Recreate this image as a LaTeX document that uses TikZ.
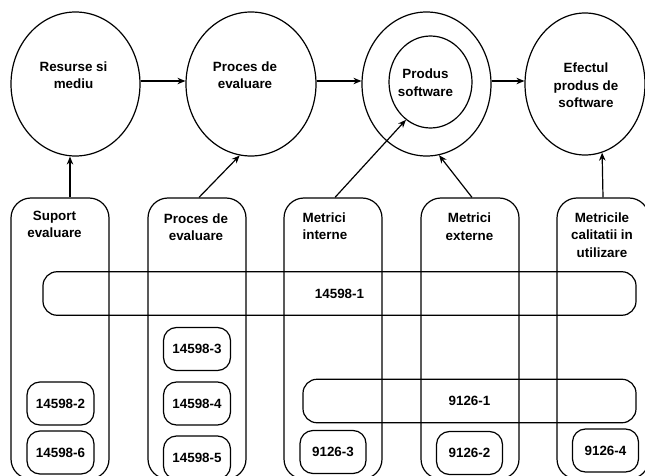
\documentclass[tikz,border=0pt]{standalone}
\usepackage{fontspec}
\setmainfont{Liberation Sans}
\usetikzlibrary{arrows.meta,calc,shapes.geometric}
\begin{document}
\begin{tikzpicture}[x=1pt,y=-1pt,
  line width=1.2pt,
  every node/.style={font=\fontsize{13.4}{17.5}\selectfont\bfseries},
  ring/.style={draw,ellipse,inner sep=0pt},
  txt/.style={anchor=north,inner sep=0pt,align=center},
  colbox/.style={draw,rounded corners=20pt,minimum width=98pt,minimum height=281pt,inner sep=0pt},
  band/.style={draw,rounded corners=14pt,minimum height=43.5pt,inner sep=0pt},
  stdbox/.style={draw,rounded corners=13pt,minimum width=67pt,minimum height=43pt,inner sep=0pt},
  flow/.style={-{Stealth[length=8pt,width=6.5pt]}}]
\useasboundingbox (0,0) rectangle (645,476);
\clip (0,0) rectangle (645,476);

% top row: the four stages
\node[ring,minimum width=129pt,minimum height=144pt] (c1) at (75.5,84) {};
\node[ring,minimum width=130pt,minimum height=144pt] (c2) at (251,84) {};
\node[ring,minimum width=129pt,minimum height=144pt] (c3) at (426.5,84) {};
\node[ring,minimum width=83pt,minimum height=92pt] (c3in) at (430.5,82) {};
\node[ring,minimum width=120pt,minimum height=142pt] (c4) at (585,84) {};

\node[txt] (t1) at (73.5,61) {Resurse si\\mediu};
\node[txt] (t2) at (245,61) {Proces de\\evaluare};
\node[txt] (t3) at (425.5,68.5) {Produs\\software};
\node[txt] (t4) at (586,62.5) {Efectul\\produs de\\software};

% columns of standards
\node[colbox] (col1) at (60,338.5) {};
\node[colbox] (col2) at (197,338.5) {};
\node[colbox] (col3) at (333,338.5) {};
\node[colbox] (col4) at (470,338.5) {};
\node[colbox,minimum width=92pt] (col5) at (603,338.5) {};

\node[txt] (k1) at (54.5,210.5) {Suport\\evaluare};
\node[txt] (k2) at (196,213) {Proces de\\evaluare};
\node[txt,anchor=north west,align=left] (k3) at (302,212) {Metrici\\interne};
\node[txt] (k4) at (469.5,212.5) {Metrici\\externe};
\node[txt] (k5) at (602,212) {Metricile\\calitatii in\\utilizare};

% horizontal bands
\node[band,minimum width=593pt] (b1) at (339.5,293.5) {14598-1};
\node[band,minimum width=333pt] (b2) at (469.5,401) {9126-1};

% individual parts
\node[stdbox] (s2) at (60.5,403.5) {14598-2};
\node[stdbox] (s6) at (60.5,452.5) {14598-6};
\node[stdbox] (s3) at (197,349) {14598-3};
\node[stdbox] (s4) at (197,403.5) {14598-4};
\node[stdbox] (s5) at (197,457.5) {14598-5};
\node[stdbox,minimum width=66pt] (n3) at (333,452) {9126-3};
\node[stdbox,minimum width=66pt] (n2) at (469.5,453) {9126-2};
\node[stdbox,minimum width=66pt] (n4) at (605.5,450.5) {9126-4};

% connectors
\draw[flow] ($(c1.east)+(0,-3)$) -- ($(c2.west)+(0,-3)$);
\draw[flow] ($(c2.east)+(0,-3)$) -- ($(c3.west)+(0,-3)$);
\draw[flow] ($(c3.east)+(0,-3)$) -- ($(c4.west)+(0,-3)$);
\draw[flow] ($(col1.north)+(10,0)$) -- ($(c1.south)+(-5.5,0)$);
\draw[flow] ($(col2.north)+(2,0)$) -- (c2.261);
\draw[flow] ($(col3.north)+(2,0)$) -- (c3in.237);
\draw[flow] ($(col4.north)+(2,0)$) -- (c3.280);
\draw[flow] (col5.north) -- (c4.284);
\end{tikzpicture}
\end{document}
